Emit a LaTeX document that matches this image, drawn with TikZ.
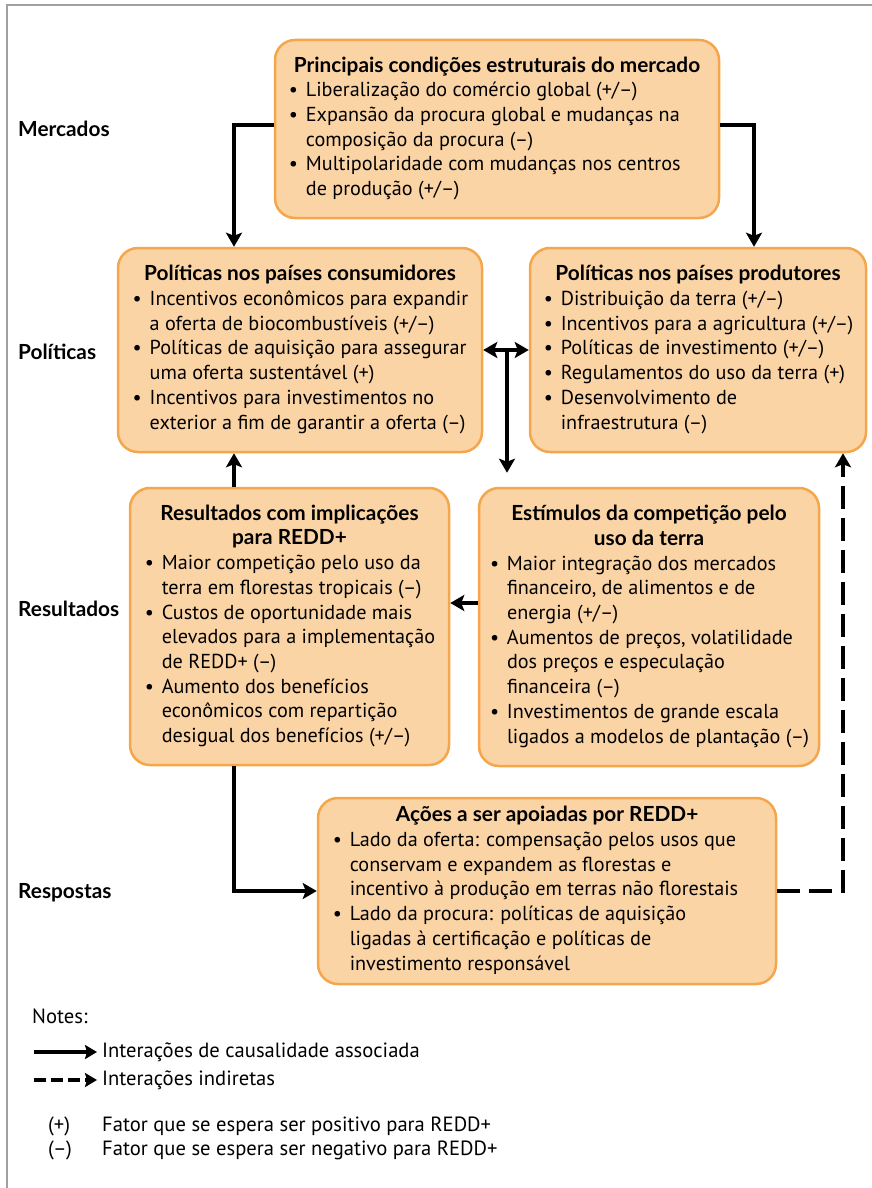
\documentclass[tikz,border=0pt]{standalone}
\usepackage{fontspec}
\setmainfont{PT Sans}
\newfontfamily\boldf{Lato}[Scale=1.03]
\usetikzlibrary{arrows.meta,calc}
\definecolor{boxfill}{RGB}{251,212,165}
\definecolor{boxline}{RGB}{245,166,75}
\definecolor{framegray}{RGB}{160,160,160}
\newcommand{\bu}{\makebox[18pt][l]{\hspace{1pt}•}}
\newcommand{\ttl}[1]{\multicolumn{2}{c}{\boldf\bfseries #1}}
\newcommand{\bodyfont}{\fontsize{20.2}{24.7}\selectfont}
\tikzset{
  x=1pt,y=-1pt,
  box/.style={draw=boxline, line width=2.5pt, fill=boxfill, rounded corners=20pt,
    inner sep=0pt, font=\bodyfont},
  rowlabel/.style={anchor=west, font=\bodyfont\boldf\bfseries, inner sep=0pt},
  legtext/.style={anchor=west, font=\fontsize{20.6}{24.7}\selectfont, inner sep=0pt},
  arr/.style={line width=4pt, -{Stealth[length=14pt,width=16pt,inset=3pt]}},
  darr/.style={arr, dash pattern=on 23pt off 9pt},
}
\begin{document}
\begin{tikzpicture}
\useasboundingbox (0,0) rectangle (872,1188);
\draw[framegray, line width=2pt] (6.5,1188) -- (6.5,5.5) -- (872,5.5);

% boxes
\node[box, minimum width=444pt, minimum height=178pt] (top) at (497,129) {%
\begin{tabular}{@{}l@{}l@{}}
\ttl{Principais condições estruturais do mercado}\\
\bu & Liberalização do comércio global (+/–)\\
\bu & Expansão da procura global e mudanças na\\
 & composição da procura (–)\\
\bu & Multipolaridade com mudanças nos centros\\
 & de produção (+/–)
\end{tabular}};

\node[box, minimum width=364pt, minimum height=204pt] (cons) at (300,350) {%
\begin{tabular}{@{}l@{}l@{}}
\ttl{Políticas nos países consumidores}\\
\bu & Incentivos econômicos para expandir\\
 & a oferta de biocombustíveis (+/–)\\
\bu & Políticas de aquisição para assegurar\\
 & uma oferta sustentável (+)\\
\bu & Incentivos para investimentos no\\
 & exterior a fim de garantir a oferta (–)
\end{tabular}};

\node[box, minimum width=336pt, minimum height=204pt] (prod) at (698,350) {%
\begin{tabular}{@{}l@{}l@{}}
\ttl{Políticas nos países produtores}\\
\bu & Distribuição da terra (+/–)\\
\bu & Incentivos para a agricultura (+/–)\\
\bu & Políticas de investimento (+/–)\\
\bu & Regulamentos do uso da terra (+)\\
\bu & Desenvolvimento de\\
 & infraestrutura (–)
\end{tabular}};

\node[box, minimum width=319pt, minimum height=277pt] (res) at (289.5,626.5) {%
\begin{tabular}{@{}l@{}l@{}}
\ttl{Resultados com implicações}\\
\ttl{para REDD+}\\
\bu & Maior competição pelo uso da\\
 & terra em florestas tropicais (–)\\
\bu & Custos de oportunidade mais\\
 & elevados para a implementação\\
 & de REDD+ (–)\\
\bu & Aumento dos benefícios\\
 & econômicos com repartição\\
 & desigual dos benefícios (+/–)
\end{tabular}};

\node[box, minimum width=340pt, minimum height=278pt] (est) at (649,627) {%
\begin{tabular}{@{}l@{}l@{}}
\ttl{Estímulos da competição pelo}\\
\ttl{uso da terra}\\
\bu & Maior integração dos mercados\\
 & financeiro, de alimentos e de\\
 & energia (+/–)\\
\bu & Aumentos de preços, volatilidade\\
 & dos preços e especulação\\
 & financeira (–)\\
\bu & Investimentos de grande escala\\
 & ligados a modelos de plantação (–)
\end{tabular}};

\node[box, minimum width=458pt, minimum height=186pt] (act) at (547,891) {%
\hspace*{-24pt}\begin{tabular}{@{}l@{}l@{}}
\multicolumn{2}{c}{\hspace*{24pt}\boldf\bfseries Ações a ser apoiadas por REDD+}\\
\bu & Lado da oferta: compensação pelos usos que\\
 & conservam e expandem as florestas e\\
 & incentivo à produção em terras não florestais\\
\bu & Lado da procura: políticas de aquisição\\
 & ligadas à certificação e políticas de\\
 & investimento responsável
\end{tabular}};

% row labels
\node[rowlabel] (lmerc) at (18,129) {Mercados};
\node[rowlabel] (lpol) at (18,352) {Políticas};
\node[rowlabel] (lres) at (18,609) {Resultados};
\node[rowlabel] (lresp) at (18,893) {Respostas};

% helper coordinates
\coordinate (xl) at (234,0);
\coordinate (xr) at (754,0);
\coordinate (xd) at (843,0);
\coordinate (mid) at (507,350);
\coordinate (y603) at (0,603);
\coordinate (y125) at (0,125);

% connectors
\draw[arr] (top.west |- y125) -| (xl |- cons.north);
\draw[arr] (top.east |- y125) -| (xr |- prod.north);
\draw[line width=4pt, {Stealth[length=14pt,width=16pt,inset=3pt]}-{Stealth[length=14pt,width=16pt,inset=3pt]}] (cons.east) -- (prod.west);
\draw[arr, shorten >=14pt] (mid) -- (mid |- est.north);
\draw[darr] (xl |- res.north) -- (xl |- cons.south);
\draw[arr] (est.west |- y603) -- (res.east |- y603);
\draw[arr] (xl |- res.south) |- (act.west);
\draw[darr] (act.east) -| (xd |- prod.south);

% notes
\node[legtext] (notes) at (32,1016) {Notes:};
\node[legtext] (lt1) at (102,1052) {Interações de causalidade associada};
\node[legtext] (lt2) at (102,1080) {Interações indiretas};
\coordinate (ls1) at (34,1052);
\coordinate (ls2) at (34,1080);
\draw[line width=3.5pt, -{Stealth[length=12pt,width=14pt,inset=2pt]}, shorten >=5pt] (ls1) -- (lt1.west);
\draw[line width=3.5pt, dash pattern=on 12pt off 5pt, -{Stealth[length=12pt,width=14pt,inset=2pt]}, shorten >=5pt] (ls2) -- (lt2.west);
\node[legtext] (pp) at (48,1126) {(+)};
\node[legtext] (mm) at (48,1150) {(–)};
\node[legtext] (ppt) at (102,1126) {Fator que se espera ser positivo para REDD+};
\node[legtext] (mmt) at (102,1150) {Fator que se espera ser negativo para REDD+};
\end{tikzpicture}
\end{document}
